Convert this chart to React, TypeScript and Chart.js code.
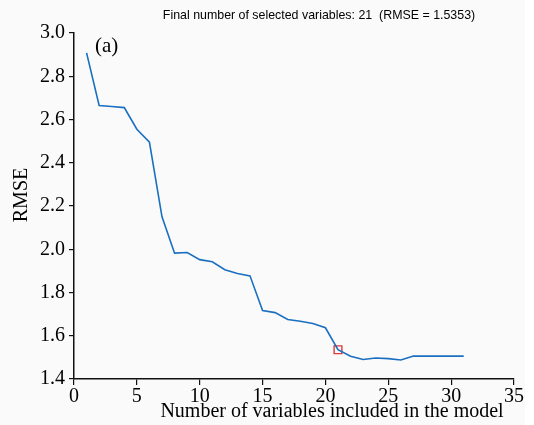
import React, { useEffect, useRef } from "react";
import { Chart, registerables } from "chart.js";

Chart.register(...registerables);

const numVars = [1, 2, 3, 4, 5, 6, 7, 8, 9, 10, 11, 12, 13, 14, 15, 16, 17, 18, 19, 20, 21, 22, 23, 24, 25, 26, 27, 28, 29, 30, 31];
const rmse = [2.908, 2.665, 2.66, 2.655, 2.555, 2.495, 2.15, 1.982, 1.985, 1.952, 1.942, 1.905, 1.888, 1.877, 1.717, 1.707, 1.675, 1.667, 1.657, 1.637, 1.5353, 1.505, 1.49, 1.497, 1.494, 1.488, 1.506, 1.506, 1.506, 1.506, 1.506];
const selectedX = [21];
const selectedY = [1.5353];
const titleText = "Final number of selected variables: 21  (RMSE = 1.5353)";
const panelLabel = "(a)";
const xTitle = "Number of variables included in the model";
const yTitle = "RMSE";

const SERIF = "'Liberation Serif', 'Times New Roman', serif";
const SANS = "'Liberation Sans', Arial, sans-serif";

export default function App() {
  const ref = useRef<HTMLCanvasElement | null>(null);
  useEffect(() => {
    document.body.style.margin = "0";
    const canvas = ref.current!;
    const decor = {
      id: "decor",
      beforeDraw(chart: any) {
        const ctx = chart.ctx;
        ctx.save();
        ctx.fillStyle = "#ffffff";
        ctx.fillRect(0, 0, chart.width, chart.height);
        ctx.fillStyle = "#fafafa";
        ctx.fillRect(0, 0, 525, chart.height);
        ctx.restore();
      },
      afterDraw(chart: any) {
        const ctx = chart.ctx;
        ctx.save();
        ctx.fillStyle = "#000";
        ctx.textBaseline = "middle";
        ctx.textAlign = "center";
        ctx.font = `12.4px ${SANS}`;
        ctx.fillText(titleText, 319, 16);
        ctx.font = `21px ${SERIF}`;
        ctx.textAlign = "left";
        ctx.fillText(panelLabel, 95, 46);
        ctx.textAlign = "center";
        ctx.font = `20px ${SERIF}`;
        ctx.fillText(xTitle, 332, 412);
        ctx.translate(22, 195);
        ctx.rotate(-Math.PI / 2);
        ctx.fillText(yTitle, 0, 0);
        ctx.restore();
      },
    };
    const chart = new Chart(canvas, {
      type: "line",
      data: {
        datasets: [
          {
            data: numVars.map((x, i) => ({ x, y: rmse[i] })),
            borderColor: "#1a6fc0",
            borderWidth: 1.6,
            pointRadius: 0,
            fill: false,
            tension: 0,
          },
          {
            data: selectedX.map((x, i) => ({ x, y: selectedY[i] })),
            showLine: false,
            pointStyle: "rect",
            pointRadius: 5.5,
            borderColor: "#e03a3a",
            backgroundColor: "rgba(0,0,0,0)",
            pointBorderWidth: 1.4,
            borderWidth: 1.4,
          },
        ],
      },
      options: {
        animation: false,
        responsive: false,
        maintainAspectRatio: false,
        layout: { padding: { left: 0, right: 20, top: 33, bottom: 0 } },
        plugins: { legend: { display: false }, title: { display: false }, tooltip: { enabled: false } },
        scales: {
          x: {
            type: "linear",
            min: 0,
            max: 35,
            afterFit(s: any) { s.height = 46; },
            ticks: { stepSize: 5, color: "#000", font: { family: SERIF, size: 20 }, padding: 0, maxRotation: 0 },
            grid: { display: true, drawOnChartArea: false, drawTicks: true, tickLength: 6, color: "#111", lineWidth: 1.2 },
            border: { display: true, color: "#111", width: 1.5 },
          },
          y: {
            type: "linear",
            min: 1.4,
            max: 3.0,
            afterFit(s: any) { s.width = 74; },
            ticks: { stepSize: 0.2, color: "#000", font: { family: SERIF, size: 20 }, padding: 4, callback: (v: any) => Number(v).toFixed(1) },
            grid: { display: true, drawOnChartArea: false, drawTicks: true, tickLength: 5, color: "#111", lineWidth: 1.2 },
            border: { display: true, color: "#111", width: 1.5 },
          },
        },
      },
      plugins: [decor],
    });
    return () => chart.destroy();
  }, []);
  return <canvas ref={ref} width={534} height={425} style={{ display: "block", width: 534, height: 425 }} />;
}
